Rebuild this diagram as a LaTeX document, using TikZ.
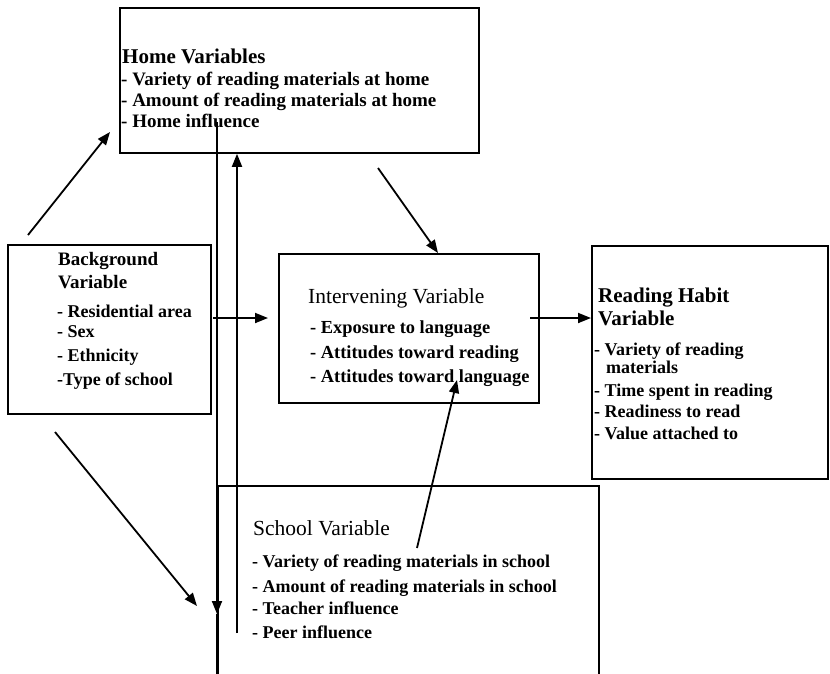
\documentclass[tikz,border=0pt]{standalone}
\usepackage{fontspec}
\setmainfont{Liberation Serif}
\usetikzlibrary{arrows.meta}
\begin{document}
\begin{tikzpicture}[x=1pt,y=-1pt,
  box/.style={draw, line width=1.8pt, inner sep=0pt, anchor=north west},
  hb/.style={anchor=base west, inner sep=0pt, font=\fontsize{21}{24}\selectfont\bfseries},
  hr/.style={anchor=base west, inner sep=0pt, font=\fontsize{21.5}{24}\selectfont},
  it/.style={anchor=base west, inner sep=0pt, font=\fontsize{18}{20}\selectfont\bfseries},
  itl/.style={it, font=\fontsize{19}{21}\selectfont\bfseries},
  itm/.style={it, font=\fontsize{18.4}{21}\selectfont\bfseries},
  arr/.style={line width=1.8pt, -{Triangle[length=13pt,width=10pt]}},
  ln/.style={line width=2pt}
]
\useasboundingbox (0,0) rectangle (830,673);
% boxes
\node[box, minimum width=359pt, minimum height=145pt] (home) at (119,7) {};
\node[box, minimum width=203pt, minimum height=169pt] (bg) at (7,244) {};
\node[box, minimum width=260pt, minimum height=149pt] (inter) at (278,253) {};
\node[box, minimum width=236pt, minimum height=233pt] (read) at (591,245) {};
\node[box, minimum width=381pt, minimum height=240pt] (school) at (217,485) {};
% home text
\node[hb] (h0) at (122,63) {Home Variables};
\node[itl] (h1) at (121,85) {- Variety of reading materials at home};
\node[itl] (h2) at (121,106) {- Amount of reading materials at home};
\node[itl] (h3) at (121,127) {- Home influence};
% background text
\node[hb, font=\fontsize{19}{22}\selectfont\bfseries] (b0) at (58,265) {Background};
\node[hb, font=\fontsize{19}{22}\selectfont\bfseries] (b1) at (58,288) {Variable};
\node[it] (b2) at (57,317) {- Residential area};
\node[it] (b3) at (57,337) {- Sex};
\node[it] (b4) at (57,361) {- Ethnicity};
\node[it] (b5) at (57,385) {-Type of school};
% intervening text
\node[hr] (i0) at (308,303) {Intervening Variable};
\node[itm] (i1) at (310,333) {- Exposure to language};
\node[itm] (i2) at (310,358) {- Attitudes toward reading};
\node[itm] (i3) at (310,382) {- Attitudes toward language};
% reading habit text
\node[hb] (r0) at (598,302) {Reading Habit};
\node[hb] (r1) at (598,325) {Variable};
\node[it] (r2) at (594,355) {- Variety of reading};
\node[it] (r3) at (606,373) {materials};
\node[it] (r4) at (594,396) {- Time spent in reading};
\node[it] (r5) at (594,417) {- Readiness to read};
\node[it] (r6) at (594,439) {- Value attached to};
% school text
\node[hr] (s0) at (253,535) {School Variable};
\node[it] (s1) at (252,567) {- Variety of reading materials in school};
\node[it] (s2) at (252,592) {- Amount of reading materials in school};
\node[it] (s3) at (252,614) {- Teacher influence};
\node[it] (s4) at (252,638) {- Peer influence};
% connector ends
\coordinate (bgUp) at (28,235);
\coordinate (homeIn) at (110,132);
\coordinate (bgOut) at (213,318);
\coordinate (interIn) at (268,318);
\coordinate (interOut) at (530,318);
\coordinate (homeOut) at (378,168);
\coordinate (interTop) at (438,253);
\coordinate (schoolOut) at (417,548);
\coordinate (interLang) at (457,380);
\coordinate (bgDown) at (55,432);
\coordinate (schoolIn) at (197,606);
\coordinate (dTop) at (217,122);
\coordinate (dArr) at (217,614);
\coordinate (dBot) at (217,690);
\coordinate (uBot) at (237,633);
% connectors
\draw[arr] (bgUp) -- (homeIn);
\draw[arr] (bgOut) -- (interIn);
\draw[arr] (interOut) -- (read.west |- interOut);
\draw[arr] (homeOut) -- (interTop);
\draw[arr] (schoolOut) -- (interLang);
\draw[arr] (bgDown) -- (schoolIn);
\draw[arr] (dTop) -- (dArr);
\draw[ln] (dArr) -- (dBot);
\draw[arr] (uBot) -- (uBot |- home.south);
\end{tikzpicture}
\end{document}
